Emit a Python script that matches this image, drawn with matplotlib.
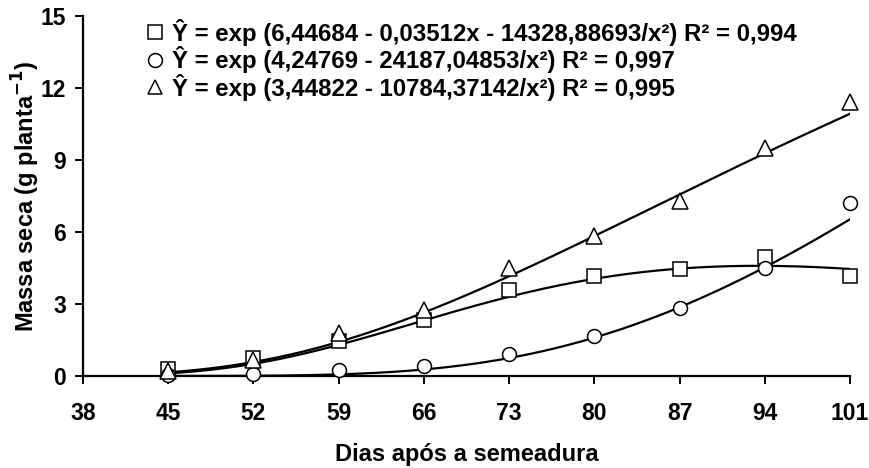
import numpy as np
import matplotlib
matplotlib.use("Agg")
import matplotlib.pyplot as plt
from matplotlib.lines import Line2D

plt.rcParams['font.family'] = ['Liberation Sans', 'DejaVu Sans']
plt.rcParams['font.weight'] = 'bold'

days = [45, 52, 59, 66, 73, 80, 87, 94, 101]
sq_vals = [0.3, 0.75, 1.45, 2.35, 3.6, 4.15, 4.45, 4.95, 4.15]
ci_vals = [0.05, 0.1, 0.25, 0.4, 0.9, 1.65, 2.85, 4.5, 7.2]
tr_vals = [0.2, 0.65, 1.8, 2.75, 4.5, 5.85, 7.3, 9.5, 11.4]

# fitted equation coefficients shown in the legend: exp(a + b*x + c/x^2)
sq_coef = [6.44684, -0.03512, -14328.88693]
ci_coef = [4.24769, 0.0, -24187.04853]
tr_coef = [3.44822, 0.0, -10784.37142]

labels = [
    "Ŷ = exp (6,44684 - 0,03512x - 14328,88693/x²) R² = 0,994",
    "Ŷ = exp (4,24769 - 24187,04853/x²) R² = 0,997",
    "Ŷ = exp (3,44822 - 10784,37142/x²) R² = 0,995",
]
xticks = [38, 45, 52, 59, 66, 73, 80, 87, 94, 101]
yticks = [0, 3, 6, 9, 12, 15]

fig = plt.figure(figsize=(8.7, 4.68), dpi=100)
ax = fig.add_axes([0.0954, 0.1966, 0.8816, 0.7692])

xs = np.linspace(45, 101, 300)
markers = ['s', 'o', '^']
handles = []
for vals, coef, m in zip([sq_vals, ci_vals, tr_vals], [sq_coef, ci_coef, tr_coef], markers):
    a, b, c = coef
    ax.plot(xs, np.exp(a + b * xs + c / xs**2), color='black', lw=1.6, zorder=2)
    ax.plot(days, vals, linestyle='none', marker=m, markersize=10 if m != '^' else 11,
            markerfacecolor='white', markeredgecolor='black', markeredgewidth=1.1, zorder=3,
            clip_on=False)
    handles.append(Line2D([], [], linestyle='none', marker=m, markersize=10,
                          markerfacecolor='white', markeredgecolor='black', markeredgewidth=1.1))

ax.set_xlim(38, 101)
ax.set_ylim(0, 15)
ax.set_xticks(xticks)
ax.set_yticks(yticks)
for s in ['top', 'right']:
    ax.spines[s].set_visible(False)
for s in ['left', 'bottom']:
    ax.spines[s].set_linewidth(1.6)
ax.tick_params(axis='x', direction='out', length=6, width=1.4, labelsize=16.5, pad=13)
ax.tick_params(axis='y', direction='out', length=6, width=1.4, labelsize=16.5, pad=6)
ax.set_xlabel("Dias após a semeadura", fontsize=17, fontweight='bold', labelpad=13)
ax.set_ylabel("Massa seca (g planta$^{\\mathbf{-1}}$)", fontsize=17, fontweight='bold', labelpad=-1)

leg = ax.legend(handles, labels, loc='upper left', bbox_to_anchor=(0.069, 1.019), frameon=False,
                handlelength=0.8, handletextpad=0.3, labelspacing=0.02, borderaxespad=0,
                prop={'size': 17.3, 'weight': 'bold'})

fig.savefig("out.png", dpi=100)
